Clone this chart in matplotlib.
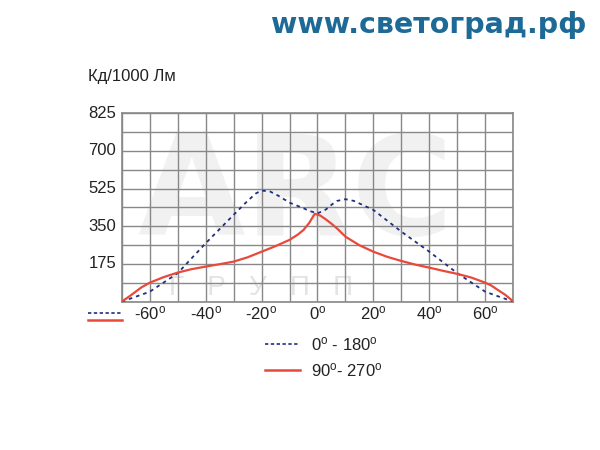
import matplotlib
matplotlib.use("Agg")
import matplotlib.pyplot as plt
from matplotlib.lines import Line2D
import numpy as np

plt.rcParams['font.family'] = ['Liberation Sans', 'DejaVu Sans']

angles_a = [-70, -60, -50, -40, -30, -25, -22, -20, -17, -14, -10, -5, -3, 0, 3, 5, 7, 10, 13, 20, 30, 40, 50, 60, 70]
vals_a = [0, 46, 132, 271, 403, 468, 503, 516, 512, 492, 460, 434, 422, 410, 428, 450, 468, 476, 468, 426, 325, 232, 132, 46, 0]

angles_b = [-70, -67, -63, -60, -55, -50, -45, -40, -35, -30, -25, -20, -15, -10, -7, -5, -3, -1,
            1, 3, 5, 7, 10, 15, 20, 25, 30, 35, 40, 45, 50, 55, 60, 62, 65, 67, 69, 70]
vals_b = [0, 27, 66, 88, 114, 135, 151, 163, 174, 186, 206, 232, 258, 287, 312, 333, 365, 408,
          400, 382, 362, 340, 302, 262, 232, 208, 189, 172, 158, 143, 129, 112, 88, 76, 50, 33, 12, 0]

xticks = [-60, -40, -20, 0, 20, 40, 60]
yticks = [175, 350, 525, 700, 875]
ytick_labels = ['175', '350', '525', '700', '825']

blue = '#1f2f7f'
red = '#e8493a'

fig = plt.figure(figsize=(6, 4.5), dpi=100)
ax = fig.add_axes([0.2028, 0.3296, 0.6527, 0.4187])

# watermark (inside axes, beneath grid)
ax.text(0.04, 0.56, 'ARC', transform=ax.transAxes, fontsize=100, fontweight='bold',
        family='DejaVu Sans', color='#f1f1f1', ha='left', va='center', zorder=0.5)
ax.text(0.12, 0.07, 'Г   Р   У   П   П', transform=ax.transAxes, fontsize=20,
        color='#e3e3e3', ha='left', va='center', zorder=0.5)

ax.plot(angles_a, vals_a, color=blue, lw=1.3, ls=(0, (2, 2.2)), zorder=3)
ax.plot(angles_b, vals_b, color=red, lw=1.6, zorder=3)

ax.set_xlim(-70, 70)
ax.set_ylim(0, 875)
ax.set_xticks(np.arange(-70, 71, 10))
ax.set_yticks(np.arange(0, 876, 87.5))
ax.grid(True, color='#888888', lw=1.0, zorder=1)
ax.tick_params(length=0, labelbottom=False, labelleft=False)
for s in ax.spines.values():
    s.set_color('#888888')
    s.set_linewidth(1.2)

for t in xticks:
    ax.text(t, -12, '%d$\\mathregular{^{o}}$' % t, ha='center', va='top', fontsize=12, color='#222222')
for t, l in zip(yticks, ytick_labels):
    ax.text(-72, t, l, ha='right', va='center', fontsize=12, color='#222222')

fig.text(88/600, 1-77/450, 'Кд/1000 Лм', fontsize=12, va='center', color='#222222')
fig.text(586/600, 1-25/450, 'www.светоград.рф', fontsize=20.5, fontweight='bold',
         family='DejaVu Sans', color='#1e6a96', ha='right', va='center')

def seg(x0, x1, y, color, ls, lw):
    fig.add_artist(Line2D([x0/600, x1/600], [1-y/450, 1-y/450], color=color, ls=ls, lw=lw))

seg(88, 122, 313, blue, (0, (2, 1.5)), 1.2)
seg(88, 122, 320, red, '-', 1.8)
seg(265, 300, 344, blue, (0, (2, 1.5)), 1.2)
seg(265, 300, 370, red, '-', 1.8)
fig.text(311/600, 1-344/450, '0$\\mathregular{^{o}}$ - 180$\\mathregular{^{o}}$', fontsize=12, va='center', color='#222222')
fig.text(311/600, 1-370/450, '90$\\mathregular{^{o}}$- 270$\\mathregular{^{o}}$', fontsize=12, va='center', color='#222222')

fig.savefig('out.png', dpi=100, facecolor='white')
